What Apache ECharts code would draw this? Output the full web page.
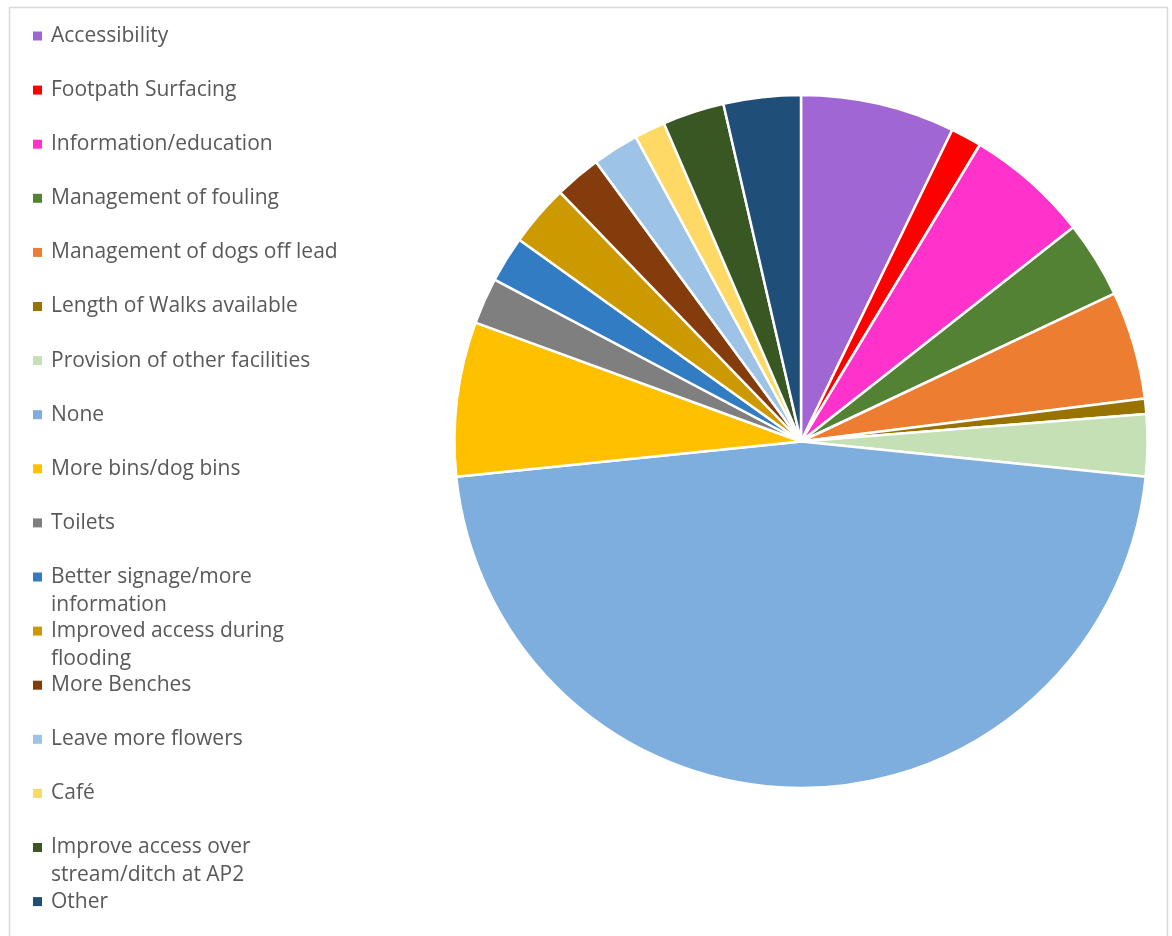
<!DOCTYPE html>
<html>
<head>
<meta charset="utf-8">
<script src="https://cdn.jsdelivr.net/npm/echarts@6/dist/echarts.min.js"></script>
<style>
  html, body { margin: 0; padding: 0; background: #ffffff; }
  #chart { width: 1172px; height: 936px; }
</style>
</head>
<body>
<div id="chart"></div>
<script>
// Suggested improvements: number of responses per category
const categories = [
  'Accessibility',
  'Footpath Surfacing',
  'Information/education',
  'Management of fouling',
  'Management of dogs off lead',
  'Length of Walks available',
  'Provision of other facilities',
  'None',
  'More bins/dog bins',
  'Toilets',
  'Better signage/more information',
  'Improved access during flooding',
  'More Benches',
  'Leave more flowers',
  'Café',
  'Improve access over stream/ditch at AP2',
  'Other'
];

const responses = [10, 2, 8, 5, 7, 1, 4, 65, 10, 3, 3, 4, 3, 3, 2, 4, 5];

// Legend text, broken where the label wraps
const legendLines = [
  ['Accessibility'],
  ['Footpath Surfacing'],
  ['Information/education'],
  ['Management of fouling'],
  ['Management of dogs off lead'],
  ['Length of Walks available'],
  ['Provision of other facilities'],
  ['None'],
  ['More bins/dog bins'],
  ['Toilets'],
  ['Better signage/more', 'information'],
  ['Improved access during', 'flooding'],
  ['More Benches'],
  ['Leave more flowers'],
  ['Café'],
  ['Improve access over', 'stream/ditch at AP2'],
  ['Other']
];

const sliceColors = [
  '#A066D3', '#FF0000', '#FF33CC', '#548235', '#ED7D31', '#997300',
  '#C5E0B4', '#7DAEDD', '#FFC000', '#7F7F7F', '#317CC2', '#CC9900',
  '#843C0C', '#9DC3E6', '#FFD966', '#385723', '#1F4E79'
];

const chart = echarts.init(document.getElementById('chart'), null, { renderer: 'canvas' });

const LINE_H = 28;
const FIRST_Y = 36;
const STEP = 54.1;

// One legend block per entry so every marker sits on the first line of its label
const legends = categories.map(function (name, i) {
  const lines = legendLines[i];
  const yc = FIRST_Y + i * STEP;
  const wrapped = lines.length > 1;
  const text = wrapped ? '\n' + lines.join('\n') : lines[0];
  const h = wrapped ? LINE_H * 3 : LINE_H;
  return {
    data: [name],
    orient: 'vertical',
    left: 33,
    top: yc - h / 2,
    padding: 0,
    itemWidth: 9,
    itemHeight: 9,
    itemGap: 0,
    icon: 'rect',
    itemStyle: { borderWidth: 0 },
    selectedMode: false,
    formatter: function () { return text; },
    textStyle: {
      color: '#595959',
      fontSize: 21,
      fontFamily: '"Open Sans", "Noto Sans", sans-serif',
      lineHeight: LINE_H,
      padding: [0, 0, 0, 4]
    }
  };
});

chart.setOption({
  animation: false,
  color: sliceColors,
  graphic: [{
    type: 'rect',
    shape: { x: 9.5, y: 7.5, width: 1158, height: 940 },
    style: { fill: 'none', stroke: '#D9D9D9', lineWidth: 1.5 },
    silent: true
  }],
  legend: legends,
  series: [{
    type: 'pie',
    center: [801, 441.5],
    radius: [0, 346.5],
    startAngle: 90,
    clockwise: true,
    avoidLabelOverlap: false,
    label: { show: false },
    labelLine: { show: false },
    emphasis: { disabled: true },
    itemStyle: { borderColor: '#ffffff', borderWidth: 2.5 },
    data: categories.map(function (name, i) {
      return { name: name, value: responses[i] };
    })
  }]
});
</script>
</body>
</html>
